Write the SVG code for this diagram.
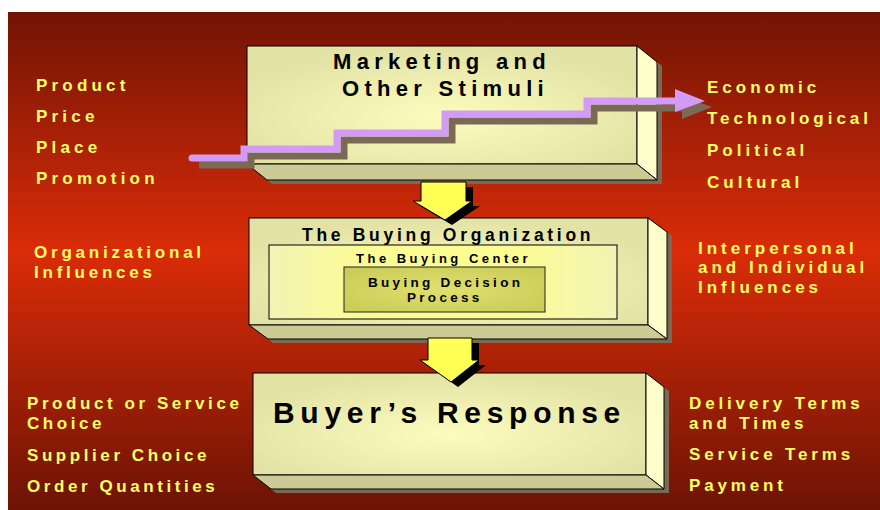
<svg xmlns="http://www.w3.org/2000/svg" width="880" height="510" viewBox="0 0 880 510">
<defs>
<linearGradient id="bg" x1="0" y1="0" x2="0" y2="1">
<stop offset="0" stop-color="#711405"/>
<stop offset="0.48" stop-color="#da2c08"/>
<stop offset="1" stop-color="#6d1305"/>
</linearGradient>
<radialGradient id="face" cx="0.5" cy="0.6" r="0.6">
<stop offset="0" stop-color="#fbfcbd"/>
<stop offset="1" stop-color="#e2e2a4"/>
</radialGradient>
<linearGradient id="center" x1="0" y1="0" x2="1" y2="0">
<stop offset="0" stop-color="#f3f3b6"/>
<stop offset="0.3" stop-color="#fcfc92"/>
<stop offset="0.7" stop-color="#fcfc92"/>
<stop offset="1" stop-color="#f3f3b6"/>
</linearGradient>
<radialGradient id="dec" cx="0.5" cy="0.5" r="0.6">
<stop offset="0" stop-color="#e0e070"/>
<stop offset="1" stop-color="#cccc58"/>
</radialGradient>
</defs>
<style>
.front{fill:url(#face);stroke:#000;stroke-width:1}
.side{fill:#ffffcc;stroke:#000;stroke-width:1}
.bot{fill:#cccb95;stroke:#000;stroke-width:1}
.shadow{fill:#7a6a55}
.lbl{font-family:"Liberation Sans",Arial,sans-serif;font-weight:bold;font-size:17px;letter-spacing:4px;fill:#ffff66}
.tl{letter-spacing:4.2px}
.org{letter-spacing:3.77px}
.bl{letter-spacing:3.57px}
.br{letter-spacing:3.85px}
.ttl{font-family:"Liberation Sans",Arial,sans-serif;font-weight:bold;fill:#000}
.arrow{fill:#ffff55;stroke:#000;stroke-width:1}
.ashadow{fill:#000}
</style>
<rect x="8" y="12" width="872" height="498" fill="url(#bg)"/>

<g id="node-stimuli">
<polygon class="shadow" points="252,50 642,50 662,66 662,184 272,184 252,168"/>
<rect class="front" x="247" y="46" width="390" height="118"/>
<polygon class="side" points="637,46 657,62 657,180 637,164"/>
<polygon class="bot" points="247,164 637,164 657,180 267,180"/>
<text class="ttl" x="333" y="69" font-size="22" letter-spacing="5.3">Marketing and</text>
<text class="ttl" x="342" y="96" font-size="22" letter-spacing="5.3">Other Stimuli</text>
</g>

<g id="node-organization">
<polygon class="shadow" points="254,222 653,222 672,236 672,343 273,343 254,329"/>
<rect class="front" x="249" y="218" width="399" height="107"/>
<polygon class="side" points="648,218 667,232 667,339 648,325"/>
<polygon class="bot" points="249,325 648,325 667,339 268,339"/>
<text class="ttl" x="302" y="241" font-size="17.5" letter-spacing="3.7">The Buying Organization</text>
<g id="node-center">
<rect x="269" y="245" width="348" height="74" fill="url(#center)" stroke="#000" stroke-width="1"/>
<text class="ttl" x="356" y="263" font-size="13" letter-spacing="3.5">The Buying Center</text>
</g>
<g id="node-decision">
<rect x="344" y="267" width="201" height="45" fill="url(#dec)" stroke="#222" stroke-width="1"/>
<text class="ttl" x="368" y="287" font-size="13.5" letter-spacing="3.3">Buying Decision</text>
<text class="ttl" x="407" y="302" font-size="13.5" letter-spacing="3.3">Process</text>
</g>
</g>

<g id="node-response">
<polygon class="shadow" points="258,377 651,377 669,391 669,493 276,493 258,479"/>
<rect class="front" x="253" y="373" width="393" height="102"/>
<polygon class="side" points="646,373 664,387 664,489 646,475"/>
<polygon class="bot" points="253,475 646,475 664,489 271,489"/>
<text class="ttl" x="273" y="423" font-size="30" letter-spacing="5.7">Buyer’s Response</text>
</g>

<g id="connectors">
<g id="stimuli-flow">
<path d="M199,165 H251 V156 H344 V140 H452 V121 H594 V108 H684" fill="none" stroke="#7a6a55" stroke-width="7"/>
<polygon points="682,96 712,107 682,119" fill="#7a6a55"/>
<path d="M192,158 H244 V149 H337 V133 H445 V114 H587 V101 H678" fill="none" stroke="#d29cf6" stroke-width="7" stroke-linecap="round"/>
<polygon points="675,89 705,101 675,112" fill="#d29cf6"/>
</g>
<g id="arrow-1">
<polygon class="ashadow" points="428,187 473,187 473,206 480,206 452,225 420,206 428,206"/>
<polygon class="arrow" points="421,182 466,182 466,201 472,201 445,220 413,201 421,201"/>
</g>
<g id="arrow-2">
<polygon class="ashadow" points="434,343 479,343 479,365 486,365 458,387 427,365 434,365"/>
<polygon class="arrow" points="428,338 472,338 472,360 479,360 451,382 420,360 428,360"/>
</g>
</g>

<g id="labels-left">
<text class="lbl tl" x="36" y="91">Product</text>
<text class="lbl tl" x="36" y="122">Price</text>
<text class="lbl tl" x="36" y="153">Place</text>
<text class="lbl tl" x="36" y="184">Promotion</text>
<text class="lbl org" x="34" y="258">Organizational</text>
<text class="lbl org" x="34" y="278">Influences</text>
<text class="lbl bl" x="27" y="409">Product or Service</text>
<text class="lbl bl" x="27" y="429">Choice</text>
<text class="lbl bl" x="27" y="461">Supplier Choice</text>
<text class="lbl bl" x="27" y="492">Order Quantities</text>
</g>
<g id="labels-right">
<text class="lbl" x="707" y="93">Economic</text>
<text class="lbl" x="707" y="124">Technological</text>
<text class="lbl" x="707" y="156">Political</text>
<text class="lbl" x="707" y="188">Cultural</text>
<text class="lbl" x="698" y="254">Interpersonal</text>
<text class="lbl" x="698" y="273">and Individual</text>
<text class="lbl" x="698" y="293">Influences</text>
<text class="lbl br" x="689" y="409">Delivery Terms</text>
<text class="lbl br" x="689" y="429">and Times</text>
<text class="lbl br" x="689" y="460">Service Terms</text>
<text class="lbl br" x="689" y="491">Payment</text>
</g>
</svg>
